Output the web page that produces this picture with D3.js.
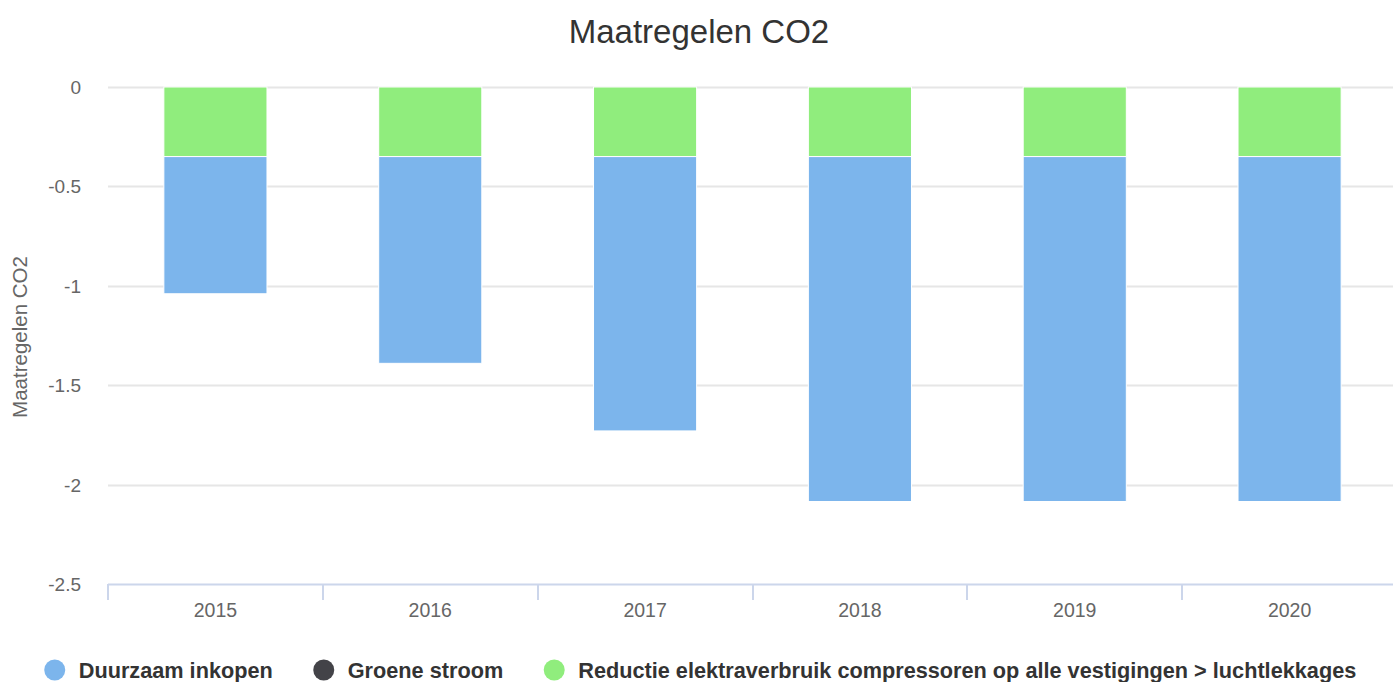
<!DOCTYPE html>
<html><head><meta charset="utf-8">
<script src="https://cdn.jsdelivr.net/npm/d3@7"></script>
<style>body{margin:0;background:#fff;font-family:"Liberation Sans",Arial,Helvetica,sans-serif;}</style>
</head><body><svg id="c" width="1393" height="682"></svg>
<script>
const categories = ["2015","2016","2017","2018","2019","2020"];
const seriesNames = ["Duurzaam inkopen","Groene stroom","Reductie elektraverbruik compressoren op alle vestigingen > luchtlekkages"];
const duurzaamInkopen = [-0.69,-1.04,-1.38,-1.735,-1.735,-1.735];
const groeneStroom = [0,0,0,0,0,0];
const reductieCompressoren = [-0.35,-0.35,-0.35,-0.35,-0.35,-0.35];
const yTicks = [0,-0.5,-1,-1.5,-2,-2.5];
const colors = ["#7cb5ec","#434348","#90ed7d"];
const title = "Maatregelen CO2";
const yTitle = "Maatregelen CO2";

const svg = d3.select("#c");
const m = {l:108, r:1397, t:87, b:584};
const x = d3.scaleBand().domain(categories).range([m.l, m.r]).paddingInner(0).paddingOuter(0);
const y = d3.scaleLinear().domain([-2.5, 0]).range([m.b, m.t]);

svg.append("text").attr("x",699).attr("y",43).attr("text-anchor","middle")
  .attr("font-size",33).attr("fill","#333").text(title);

// grid
svg.append("g").selectAll("line").data(yTicks.filter(d=>d!==-2.5)).join("line")
  .attr("x1",m.l).attr("x2",m.r).attr("y1",d=>Math.round(y(d))+0.5).attr("y2",d=>Math.round(y(d))+0.5)
  .attr("stroke","#e6e6e6").attr("stroke-width",2);

// y tick labels
svg.append("g").selectAll("text").data(yTicks).join("text")
  .attr("x",81).attr("y",d=>y(d)+7).attr("text-anchor","end")
  .attr("font-size",19).attr("fill","#666").text(d=>d3.format("")(d).replace("−","-"));

svg.append("text").attr("transform","translate(27,337) rotate(-90)").attr("text-anchor","middle")
  .attr("font-size",20.5).attr("fill","#666").text(yTitle);

// stacks: last series nearest axis
const seriesData = [duurzaamInkopen, groeneStroom, reductieCompressoren];
const bw = x.bandwidth()*0.48;
categories.forEach((c,i)=>{
  let base = 0;
  for (let s = seriesData.length-1; s>=0; s--) {
    const v = seriesData[s][i];
    if (v === 0) continue;
    const top = base, bot = base + v;
    svg.append("rect")
      .attr("x", x(c)+x.bandwidth()/2-bw/2).attr("width", bw)
      .attr("y", y(top)).attr("height", y(bot)-y(top))
      .attr("fill", colors[s]).attr("stroke","#fff").attr("stroke-width",1);
    base = bot;
  }
});

// x axis
const xa = svg.append("g");
xa.append("line").attr("x1",m.l).attr("x2",m.r).attr("y1",m.b+0.5).attr("y2",m.b+0.5).attr("stroke","#ccd6eb").attr("stroke-width",2);
xa.selectAll(".tk").data(categories).join("line").attr("class","tk")
  .attr("x1",d=>Math.round(x(d))).attr("x2",d=>Math.round(x(d))).attr("y1",m.b).attr("y2",m.b+16)
  .attr("stroke","#ccd6eb").attr("stroke-width",2);
xa.selectAll("text").data(categories).join("text")
  .attr("x",d=>x(d)+x.bandwidth()/2).attr("y",m.b+33).attr("text-anchor","middle")
  .attr("font-size",19.5).attr("fill","#666").text(d=>d);

// legend
const lg = svg.append("g");
let cx = 0;
const gap = 41;
seriesNames.forEach((n,i)=>{
  const g = lg.append("g").attr("transform",`translate(${cx},0)`);
  g.append("circle").attr("cx",10).attr("cy",0).attr("r",10.5).attr("fill",colors[i]);
  const t = g.append("text").attr("x",34).attr("y",8).attr("font-size",21.7).attr("font-weight","bold").attr("fill","#333").text(n);
  const w = t.node().getComputedTextLength();
  cx += 34 + w + gap;
});
const total = cx - gap;
lg.attr("transform",`translate(${(1393-total)/2+4},670)`);
</script></body></html>
